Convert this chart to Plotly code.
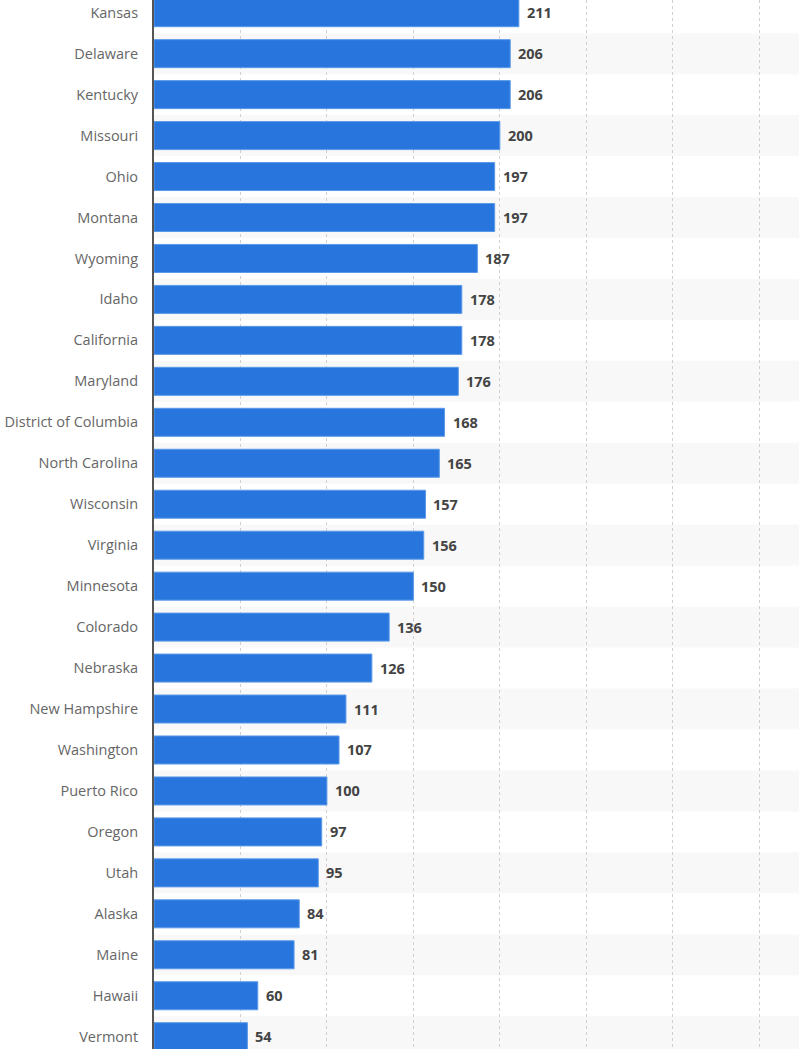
import plotly.graph_objects as go

# states, top to bottom as in the chart
states = ["Kansas", "Delaware", "Kentucky", "Missouri", "Ohio", "Montana", "Wyoming",
          "Idaho", "California", "Maryland", "District of Columbia", "North Carolina",
          "Wisconsin", "Virginia", "Minnesota", "Colorado", "Nebraska", "New Hampshire",
          "Washington", "Puerto Rico", "Oregon", "Utah", "Alaska", "Maine", "Hawaii",
          "Vermont"]
values = [211, 206, 206, 200, 197, 197, 187, 178, 178, 176, 168, 165, 157, 156,
          150, 136, 126, 111, 107, 100, 97, 95, 84, 81, 60, 54]

barColor = "#2876dd"
fontName = "Open Sans"

fig = go.Figure()

fig.add_trace(go.Bar(
    x=values, y=states, orientation="h",
    width=0.684,
    marker=dict(color=barColor, line=dict(color="#5b9ae8", width=1)),
    hoverinfo="x+y",
))

# alternating row bands
shapes = []
for i in range(len(states)):
    if i % 2 == 1:
        shapes.append(dict(type="rect", xref="x domain", yref="y",
                           x0=0, x1=1, y0=i - 0.5, y1=i + 0.5,
                           fillcolor="#f8f8f8", line=dict(width=0), layer="below"))

# value labels right of bars
annots = []
for s, v in zip(states, values):
    annots.append(dict(x=v, y=s, xref="x", yref="y", text="<b>%d</b>" % v,
                       showarrow=False, xanchor="left", xshift=6,
                       font=dict(family=fontName, size=14.5, color="#444444")))

fig.update_layout(
    width=799, height=1049,
    margin=dict(l=154, r=0, t=0, b=0),
    paper_bgcolor="white", plot_bgcolor="white",
    showlegend=False,
    shapes=shapes, annotations=annots,
    font=dict(family=fontName, size=14, color="#666666"),
)
fig.update_xaxes(range=[0, 373], showticklabels=False, zeroline=False,
                 showgrid=True, gridcolor="#d0d0d0", griddash="dot", gridwidth=1,
                 dtick=50, tick0=0)
fig.update_yaxes(type="category", range=[25.3, -0.31], showline=True,
                 linecolor="#555555", linewidth=2, showgrid=False,
                 ticks="", ticklabelstandoff=11,
                 tickfont=dict(family=fontName, size=14.5, color="#666666"))

# page has a default body margin, drop it so the chart sits at the corner
fig.write_html("out.html", config={"displayModeBar": False},
               post_script="document.body.style.margin='0px';document.body.style.overflow='hidden';")
